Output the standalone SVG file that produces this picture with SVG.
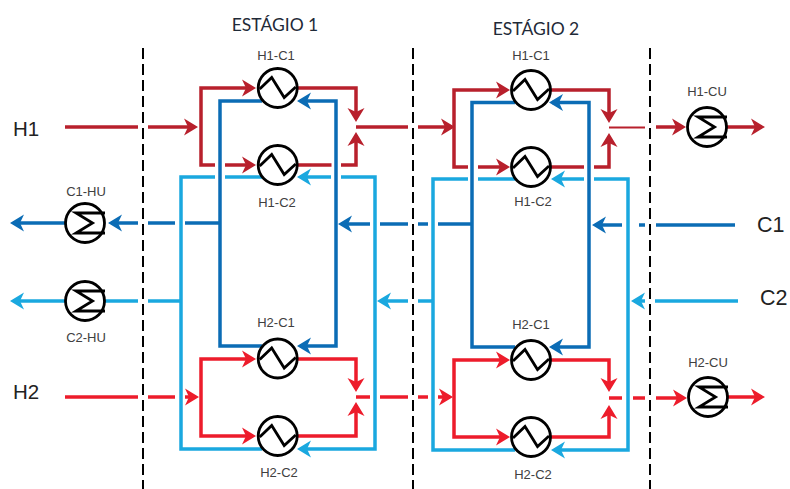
<svg xmlns="http://www.w3.org/2000/svg" xmlns:xlink="http://www.w3.org/1999/xlink" width="790" height="489" viewBox="0 0 790 489">
<style>
.s{fill:none;stroke-width:3.500;stroke-linejoin:miter}
.h1{stroke:#B8202C}.h2{stroke:#ED1C2B}.c1{stroke:#0B6CB5}.c2{stroke:#1AA8DF}
.d{stroke:#000;stroke-width:2;stroke-dasharray:11 5;fill:none}
.l{font:13px "Liberation Sans",Arial,sans-serif;fill:#404040;text-anchor:middle}
.t{font:17.500px Lato,"Open Sans",sans-serif;fill:#1f2a38;text-anchor:middle}
.b{font:20.500px "Liberation Sans",Arial,sans-serif;fill:#222}
.b2{font:21.500px "Liberation Sans",Arial,sans-serif;fill:#222}
.r{fill:#fff;stroke:#000;stroke-width:2.800}
.z{fill:none;stroke:#000;stroke-width:2.800}
</style>
<defs>
<marker id="ah1" markerUnits="userSpaceOnUse" markerWidth="15" markerHeight="18" refX="11" refY="9" orient="auto"><path d="M14,9 L0,0.500 L4,9 L0,17.500Z" fill="#B8202C"/></marker>
<marker id="ah2" markerUnits="userSpaceOnUse" markerWidth="15" markerHeight="18" refX="11" refY="9" orient="auto"><path d="M14,9 L0,0.500 L4,9 L0,17.500Z" fill="#ED1C2B"/></marker>
<marker id="ac1" markerUnits="userSpaceOnUse" markerWidth="15" markerHeight="18" refX="11" refY="9" orient="auto"><path d="M14,9 L0,0.500 L4,9 L0,17.500Z" fill="#0B6CB5"/></marker>
<marker id="ac2" markerUnits="userSpaceOnUse" markerWidth="15" markerHeight="18" refX="11" refY="9" orient="auto"><path d="M14,9 L0,0.500 L4,9 L0,17.500Z" fill="#1AA8DF"/></marker>
<g id="hx"><circle class="r" r="19.500"/><path class="z" d="M-18,1 L-6,-10.500 L6.500,9.500 L18,-1"/></g>
<g id="ut"><circle class="r" r="19.500"/><path class="z" d="M20,-10 H-9 L7.500,0 L-9,10 H20"/></g>
</defs>
<g id="stage-boundaries">
<path class="d" d="M143,48V489M413,48V489M650,48V489"/>
</g>
<g id="connectors">
<g class="s h1">
<path d="M65,127H138"/><path d="M148,127H195" marker-end="url(#ah1)"/>
<path d="M201,127V88H253" marker-end="url(#ah1)"/>
<path d="M201,127V165H215"/><path d="M225,165H253" marker-end="url(#ah1)"/>
<path d="M297,88H356V119" marker-end="url(#ah1)"/>
<path d="M297,165H331.500"/><path d="M341,165H356V135" marker-end="url(#ah1)"/>
<path d="M356,127H408"/><path d="M418,127H452" marker-end="url(#ah1)"/>
<path d="M454,127V90H507" marker-end="url(#ah1)"/>
<path d="M454,127V167H468"/><path d="M478,167H507" marker-end="url(#ah1)"/>
<path d="M551,90H609V120" marker-end="url(#ah1)"/>
<path d="M551,167H584"/><path d="M594,167H609V136" marker-end="url(#ah1)"/>
<path d="M609,127.500H645" style="stroke-width:2.200"/><path d="M656,127H683" marker-end="url(#ah1)"/>
<path d="M726,127H762" marker-end="url(#ah1)"/>
</g>
<g class="s h2">
<path d="M65,397H138"/><path d="M148,397H175"/><path d="M185,397H196" marker-end="url(#ah2)"/>
<path d="M201,397V359H253" marker-end="url(#ah2)"/>
<path d="M201,397V436H253" marker-end="url(#ah2)"/>
<path d="M297,359H356V389" marker-end="url(#ah2)"/>
<path d="M297,436H356V405" marker-end="url(#ah2)"/>
<path d="M356,397H370"/><path d="M380,397H408"/><path d="M418,397H428"/><path d="M438,397H450" marker-end="url(#ah2)"/>
<path d="M454,397V360H507" marker-end="url(#ah2)"/>
<path d="M454,397V437H507" marker-end="url(#ah2)"/>
<path d="M551,360H609V389" marker-end="url(#ah2)"/>
<path d="M551,437H609V408" marker-end="url(#ah2)"/>
<path d="M609,398H622"/><path d="M633,398H645"/><path d="M656,398H684" marker-end="url(#ah2)"/>
<path d="M727,397H762" marker-end="url(#ah2)"/>
</g>
<g class="s c2">
<path d="M738,301H655"/><path d="M645,301H634" marker-end="url(#ac2)"/>
<path d="M628,301V179H594"/><path d="M584,179H554" marker-end="url(#ac2)"/>
<path d="M628,301V450H554" marker-end="url(#ac2)"/>
<path d="M478,179H515"/><path d="M468,179H433V450H515"/>
<path d="M433,301H418"/><path d="M408,301H380" marker-end="url(#ac2)"/>
<path d="M375,301V177H341"/><path d="M331,177H300" marker-end="url(#ac2)"/>
<path d="M375,301V449H300" marker-end="url(#ac2)"/>
<path d="M225,177H262"/><path d="M215,177H181V449H262"/>
<path d="M181,301H148"/><path d="M138,301H100"/>
<path d="M70,301H13" marker-end="url(#ac2)"/>
</g>
<g class="s c1">
<path d="M735,225H656"/><path d="M645,225H639"/><path d="M622,225H595" marker-end="url(#ac1)"/>
<path d="M589,225V102.500H552" marker-end="url(#ac1)"/>
<path d="M589,225V347H552" marker-end="url(#ac1)"/>
<path d="M515,102.500H472V347H515"/>
<path d="M472,224H438"/><path d="M428,224H418"/><path d="M408,224H380"/><path d="M370,224H341" marker-end="url(#ac1)"/>
<path d="M336,224V101H300" marker-end="url(#ac1)"/>
<path d="M336,224V346H300" marker-end="url(#ac1)"/>
<path d="M262,101H220V346H262"/>
<path d="M220,223H185"/><path d="M175,223H148"/><path d="M138,223H111" marker-end="url(#ac1)"/>
<path d="M70,223H13" marker-end="url(#ac1)"/>
</g>
</g>
<g id="s1-H1-C1"><use xlink:href="#hx" x="277.700" y="88"/><text class="l" x="276" y="60">H1-C1</text></g>
<g id="s1-H1-C2"><use xlink:href="#hx" x="277.700" y="165"/><text class="l" x="277" y="207">H1-C2</text></g>
<g id="s1-H2-C1"><use xlink:href="#hx" x="277.700" y="358.500"/><text class="l" x="276" y="327">H2-C1</text></g>
<g id="s1-H2-C2"><use xlink:href="#hx" x="277.700" y="436"/><text class="l" x="279" y="477">H2-C2</text></g>
<g id="s2-H1-C1"><use xlink:href="#hx" x="531" y="90"/><text class="l" x="531" y="60">H1-C1</text></g>
<g id="s2-H1-C2"><use xlink:href="#hx" x="531" y="167"/><text class="l" x="533" y="206">H1-C2</text></g>
<g id="s2-H2-C1"><use xlink:href="#hx" x="531" y="360"/><text class="l" x="531" y="329">H2-C1</text></g>
<g id="s2-H2-C2"><use xlink:href="#hx" x="531" y="437"/><text class="l" x="533" y="479">H2-C2</text></g>
<g id="C1-HU"><use xlink:href="#ut" x="85" y="223"/><text class="l" x="86" y="196">C1-HU</text></g>
<g id="C2-HU"><use xlink:href="#ut" x="85" y="301"/><text class="l" x="86" y="342">C2-HU</text></g>
<g id="H1-CU"><use xlink:href="#ut" x="707" y="127"/><text class="l" x="707" y="96">H1-CU</text></g>
<g id="H2-CU"><use xlink:href="#ut" x="708" y="397"/><text class="l" x="708" y="367">H2-CU</text></g>
<g id="stage-1"><text class="t" x="275" y="31">ESTÁGIO 1</text></g>
<g id="stage-2"><text class="t" x="536" y="35">ESTÁGIO 2</text></g>
<g id="stream-H1"><text class="b" x="13" y="136">H1</text></g>
<g id="stream-H2"><text class="b" x="13" y="399">H2</text></g>
<g id="stream-C1"><text class="b2" x="757" y="232">C1</text></g>
<g id="stream-C2"><text class="b2" x="760" y="305">C2</text></g>
</svg>
